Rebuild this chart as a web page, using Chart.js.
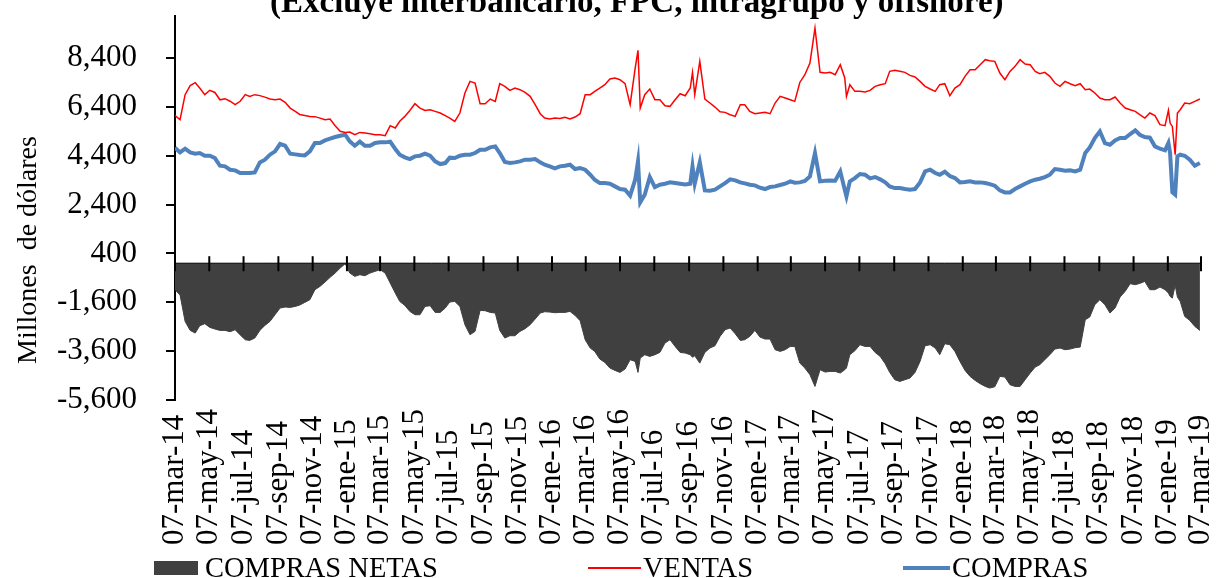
<!DOCTYPE html>
<html lang="es">
<head>
<meta charset="UTF-8">
<title>Compras y ventas de dólares</title>
<script src="https://cdn.jsdelivr.net/npm/chart.js"></script>
<style>
  body { margin: 0; background: #fff; }
  .lienzo { position: relative; width: 1216px; height: 578px; overflow: hidden; font-family: "Liberation Serif", "Times New Roman", serif; color: #000; }
  .titulo { position: absolute; left: 270px; top: -15px; font-size: 33px; font-weight: bold; line-height: 1; white-space: nowrap; }
  .eje-y { position: absolute; left: -123px; top: 233px; width: 300px; height: 34px; line-height: 34px; text-align: center; font-size: 28px; white-space: pre; transform: rotate(-90deg); }
  .leyenda { position: absolute; left: 154px; top: 553px; height: 30px; display: flex; align-items: center; gap: 150px; font-size: 28.5px; line-height: 30px; white-space: nowrap; }
  .item { display: flex; align-items: center; }
  .marca { display: inline-block; }
</style>
</head>
<body>
<div class="lienzo">
  <canvas id="grafico" width="1216" height="578"></canvas>
  <div class="titulo">(Excluye interbancario, FPC, intragrupo y offshore)</div>
  <div class="eje-y">Millones  de dólares</div>
  <div class="leyenda">
    <span class="item"><span class="marca" style="width:44px;height:14px;background:#404040;margin-right:7px"></span>COMPRAS NETAS</span>
    <span class="item"><span class="marca" style="width:53px;height:1.5px;background:#ff0000;margin-right:2px"></span>VENTAS</span>
    <span class="item"><span class="marca" style="width:47px;height:4px;background:#4f81bd;margin-right:2px"></span>COMPRAS</span>
  </div>
</div>
<script>
// días transcurridos desde el 07-mar-14
const dias = [0,9,18,27,36,44,53,62,71,80,89,98,107,116,125,133,142,151,160,169,178,187,196,205,214,222,231,240,249,258,
  267,276,285,294,303,311,320,329,338,347,356,365,374,383,392,400,409,418,427,436,445,454,463,472,481,489,498,507,516,525,
  534,543,552,561,570,578,587,596,605,614,623,632,641,650,658,667,676,685,694,703,712,721,730,739,747,756,765,774,783,792,
  801,810,819,824,828,836,845,854,863,872,881,890,899,908,917,921,925,934,943,952,961,970,979,988,997,1006,1014,1023,1032,1041,
  1050,1059,1068,1077,1086,1095,1103,1112,1121,1130,1139,1148,1157,1166,1175,1184,1192,1195,1201,1210,1219,1228,1237,1246,1255,1264,
  1272,1281,1290,1299,1308,1317,1326,1335,1344,1353,1361,1370,1379,1388,1397,1406,1415,1424,1433,1442,1450,1459,1468,1477,1486,1495,
  1504,1513,1522,1531,1539,1548,1557,1566,1575,1584,1593,1602,1611,1620,1628,1637,1646,1655,1664,1673,1682,1691,1700,1709,1717,1726,
  1735,1744,1753,1762,1768,1771,1775,1780,1784,1789,1797,1806,1815,1824];

const ventas = [6040,5875,6900,7270,7390,7170,6900,7080,6990,6690,6735,6630,6490,6630,6900,6830,6900,6860,6800,6720,
  6690,6720,6585,6350,6215,6090,6050,6010,6000,5940,5875,5900,5630,5400,5355,5370,5260,5355,5330,5300,5260,5260,5220,5630,
  5535,5810,6010,6255,6530,6350,6255,6285,
  6216,6148,6040,5943,5807,6148,6967,7445,7376,6530,6530,6720,6626,7349,7240,7076,7172,7103,6994,6830,6489,6120,5943,5902,
  5943,5929,5970,5902,5984,6120,6898,6898,7035,7172,7308,7540,7581,7513,7349,6489,7990,
  8714,
  6352,6898,7130,6694,6694,6448,6421,6694,6940,6857,7172,
  7810,
  6898,8264,6721,6557,6393,6200,6175,6080,6011,6489,6489,6216,6120,6148,6175,6120,6557,6830,6762,6694,6626,7400,7718,8195,
  9628,7813,7786,7813,7718,8127,7581,
  6830,
  7308,7035,7035,7008,7076,7240,7308,7349,7854,7895,7854,7813,7690,7622,7445,7240,7131,7035,7308,7349,6857,
  7172,7308,7649,7922,7922,8127,8332,8291,8264,7786,7513,7854,8059,8332,8154,8127,7854,7758,7813,7649,7376,7240,7445,7349,
  7267,7349,7103,7130,6967,6762,6694,6694,6803,6557,6352,6284,6216,6080,5943,6148,6040,5670,5630,
  6257,5738,5600,4442,6150,6284,6557,6530,6626,6721];

const compras = [4730,4537,4690,4537,4483,4510,4400,4400,4305,3990,3964,3827,3800,3691,3691,3691,3718,4128,4237,4442,
  4578,4880,4810,4483,4455,4428,4414,4578,4920,4920,5028,5097,5165,5220,5260,4988,4810,4975,4810,4810,4920,4947,4947,4975,
  4675,4442,4332,4264,4373,4400,4483,4400,
  4168,4060,4100,4320,4305,4400,4442,4442,4510,4646,4646,4742,4783,4510,4141,4100,4128,4168,4237,4237,4264,4128,4032,3964,
  3882,3964,3991,4032,3855,3896,3827,3623,3418,3281,3281,3254,3145,3036,3008,2763,3418,
  4168,
  2490,2804,3527,3118,3213,3254,3309,3281,3254,3227,3254,
  3964,
  3254,4127,2981,2967,3008,3145,3281,3431,3390,3309,3268,3213,3186,3090,3036,3118,3145,3200,3254,3350,3295,3309,3363,3554,
  4510,3350,3377,3390,3377,3759,3008,
  2735,
  3350,3486,3650,3623,3472,3527,3431,3309,3145,3077,3077,3036,3008,3036,3309,3759,3827,3691,3623,3745,3568,
  3486,3309,3322,3350,3309,3309,3281,3240,3172,2981,2899,2899,3036,3145,3254,3350,3418,3459,3527,3623,3855,3827,3786,3800,
  3759,3827,4510,4742,5124,5397,4920,4851,5028,5124,5124,5288,5438,5260,5165,5138,4783,4687,4619,
  4920,4510,2900,2804,4373,4442,4400,4237,3991,4100];

const netas = [-1085,-1300,-2382,-2750,-2860,-2560,-2477,-2628,-2696,-2750,-2750,-2805,-2723,-2935,-3133,-3160,-3065,-2750,
  -2546,-2382,-2109,-1836,-1795,-1809,-1768,-1713,-1604,-1495,-1085,-949,-771,-580,-403,-198,-20,-403,-539,-471,-512,-403,
  -334,-266,-403,-812,-1222,-1563,-1727,-1972,-2109,-2109,
  -1768,-1740,-2013,-2013,-1836,-1590,-1563,-1768,-2518,-2928,-2791,-1931,-1945,-2013,-2041,-2750,-3064,-2969,-2969,-2791,
  -2682,-2518,-2286,-2041,-1986,-2000,-2027,-2013,-2013,-1972,-2136,-2354,-3133,-3474,-3610,-3924,-4061,-4292,-4388,-4470,
  -4333,-3952,-4020,
  -4470,
  -3883,-3747,-3815,-3747,-3651,-3269,-3133,-3406,-3651,-3679,-3747,
  -3850,
  -3788,-4090,-3651,-3474,-3379,-2996,-2723,-2655,-2887,-3160,-3133,-2996,-2750,-3023,-3105,-3105,-3542,-3610,-3542,-3406,
  -3406,-4088,-4292,-4565,-5044,-4361,-4456,-4429,-4429,-4497,-4361,
  -4290,
  -3747,-3583,-3337,-3406,-3406,-3651,-3815,-4115,-4470,-4770,-4839,-4770,-4702,-4470,-4020,-3379,-3337,-3474,-3747,-3297,
  -3337,-3610,-4020,-4388,-4634,-4798,-4934,-5044,-5112,-5057,-4634,-4662,-4975,-5044,-5044,-4770,-4497,-4251,-4156,-3952,
  -3747,-3515,-3474,-3542,-3515,-3460,-3433,-2314,-2204,-1699,-1495,-1699,-2041,-1836,-1385,-1153,-839,-880,-826,-744,
  -1085,-1085,-976,-1085,
  -1222,-1358,-1430,-900,-1385,-1563,-2177,-2341,-2587,-2750];

const etiquetasX = ['07-mar-14','07-may-14','07-jul-14','07-sep-14','07-nov-14','07-ene-15','07-mar-15','07-may-15',
  '07-jul-15','07-sep-15','07-nov-15','07-ene-16','07-mar-16','07-may-16','07-jul-16','07-sep-16','07-nov-16','07-ene-17',
  '07-mar-17','07-may-17','07-jul-17','07-sep-17','07-nov-17','07-ene-18','07-mar-18','07-may-18','07-jul-18','07-sep-18',
  '07-nov-18','07-ene-19','07-mar-19'];

const valoresY = [-5600, -3600, -1600, 400, 2400, 4400, 6400, 8400];

const FUENTE = '"Liberation Serif", "Times New Roman", serif';
const MESES = { ene: 0, feb: 1, mar: 2, abr: 3, may: 4, jun: 5, jul: 6, ago: 7, sep: 8, oct: 9, nov: 10, dic: 11 };
const INICIO = Date.UTC(2014, 2, 7);

function diaDe(etiqueta) {
  const [d, m, a] = etiqueta.split('-');
  return (Date.UTC(2000 + Number(a), MESES[m], Number(d)) - INICIO) / 86400000;
}
const posX = etiquetasX.map(diaDe);

const puntos = vals => dias.map((d, i) => ({ x: d, y: vals[i] }));

// eje horizontal en cero con marcas cruzadas, y etiquetas de fecha abajo
const ejeCero = {
  id: 'ejeCero',
  afterDatasetsDraw(chart) {
    const { ctx, chartArea, scales: { x, y } } = chart;
    const y0 = y.getPixelForValue(0);
    ctx.save();
    ctx.strokeStyle = '#000';
    ctx.lineWidth = 1;
    ctx.beginPath();
    ctx.moveTo(chartArea.left, y0);
    ctx.lineTo(chartArea.right, y0);
    ctx.stroke();
    ctx.lineWidth = 2;
    posX.forEach(d => {
      const px = x.getPixelForValue(d);
      ctx.beginPath();
      ctx.moveTo(px, y0 - 7);
      ctx.lineTo(px, y0 + 8);
      ctx.stroke();
    });

    ctx.fillStyle = '#000';
    ctx.font = '31px ' + FUENTE;
    ctx.textAlign = 'left';
    ctx.textBaseline = 'middle';
    etiquetasX.forEach((t, i) => {
      const px = x.getPixelForValue(posX[i]);
      ctx.save();
      ctx.translate(px, chartArea.bottom + 145);
      ctx.rotate(-Math.PI / 2);
      ctx.fillText(t, 0, 0);
      ctx.restore();
    });
    ctx.restore();
  }
};

new Chart(document.getElementById('grafico'), {
  type: 'line',
  data: {
    datasets: [
      { label: 'COMPRAS NETAS', data: puntos(netas), borderColor: '#404040', backgroundColor: '#404040',
        borderWidth: 1, fill: 'origin', pointRadius: 0 },
      { label: 'VENTAS', data: puntos(ventas), borderColor: '#ff0000', borderWidth: 1.5, fill: false, pointRadius: 0 },
      { label: 'COMPRAS', data: puntos(compras), borderColor: '#4f81bd', borderWidth: 4, fill: false, pointRadius: 0 }
    ]
  },
  options: {
    responsive: false,
    animation: false,
    layout: { padding: { left: 0, top: 16, right: 15, bottom: 178 } },
    plugins: { legend: { display: false }, tooltip: { enabled: false } },
    scales: {
      x: {
        type: 'linear',
        min: 0,
        max: posX[posX.length - 1],
        grid: { display: false, drawTicks: false },
        border: { display: false },
        ticks: { display: false },
        afterFit: s => { s.height = 0; }
      },
      y: {
        min: -5600,
        max: 10120,
        afterBuildTicks: s => { s.ticks = valoresY.map(v => ({ value: v })); },
        afterFit: s => { s.width = 175; s.paddingTop = 0; s.paddingBottom = 0; },
        ticks: {
          padding: 29,
          color: '#000',
          font: { family: FUENTE, size: 31 },
          callback: v => v.toLocaleString('en-US')
        },
        grid: { drawOnChartArea: false, tickLength: 9, color: '#000', lineWidth: 2 },
        border: { color: '#000', width: 2 }
      }
    }
  },
  plugins: [ejeCero]
});
</script>
</body>
</html>
